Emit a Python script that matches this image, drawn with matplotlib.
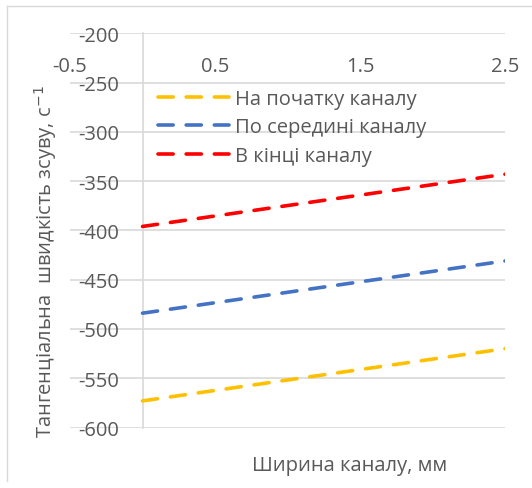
import matplotlib.pyplot as plt
from matplotlib.lines import Line2D

# Дані
width_mm = [0.0, 2.5]
start_rate = [-573, -520]   # На початку каналу
middle_rate = [-484, -431]  # По середині каналу
end_rate = [-396, -343]     # В кінці каналу

series_labels = ["На початку каналу", "По середині каналу", "В кінці каналу"]
x_ticks = [-0.5, 0.5, 1.5, 2.5]
y_ticks = [-600, -550, -500, -450, -400, -350, -300, -250, -200]

COLOR_GROC = "#FFC000"
COLOR_BLAU = "#4472C4"
COLOR_VERMELL = "#FF0000"
COLOR_TEXT = "#595959"
COLOR_GRID = "#D9D9D9"

plt.rcParams["font.family"] = ["Open Sans", "DejaVu Sans"]
plt.rcParams["axes.unicode_minus"] = False

fig = plt.figure(figsize=(5.32, 4.89), dpi=100)
ax = fig.add_axes([0.1316, 0.1237, 0.8177, 0.8062])

dash = (0, (4.2, 3.6))
for y, c, lab in zip([start_rate, middle_rate, end_rate],
                     [COLOR_GROC, COLOR_BLAU, COLOR_VERMELL], series_labels):
    ax.plot(width_mm, y, color=c, linewidth=2.6, linestyle=dash,
            dash_capstyle="round", label=lab, zorder=3)

ax.set_xlim(-0.5, 2.5)
ax.set_ylim(-600, -200)

ax.set_yticks(y_ticks)
ax.yaxis.grid(True, color=COLOR_GRID, linewidth=1.2, zorder=0)
ax.set_axisbelow(True)

for s in ["right", "bottom", "top"]:
    ax.spines[s].set_visible(False)
ax.spines["left"].set_position(("data", 0))
ax.spines["left"].set_color(COLOR_GRID)
ax.spines["left"].set_linewidth(1.2)

ax.tick_params(axis="y", length=0, pad=17, labelsize=14.5, labelcolor=COLOR_TEXT)
ax.xaxis.tick_top()
ax.set_xticks(x_ticks)
ax.set_xticklabels(["-0.5", "0.5", "1.5", "2.5"])
ax.tick_params(axis="x", length=0, pad=-31, labelsize=14.5, labelcolor=COLOR_TEXT)

fig.text(0.086, 0.464, "Тангенціальна  швидкість зсуву, с$^{-1}$", rotation=90,
         ha="center", va="center", fontsize=14.5, color=COLOR_TEXT)
fig.text(0.658, 0.048, "Ширина каналу, мм", ha="center", va="center",
         fontsize=14.5, color=COLOR_TEXT)

ax.legend(loc="upper left", bbox_to_anchor=(0.18, 0.885), frameon=False,
          fontsize=14.5, labelcolor=COLOR_TEXT, handlelength=3.5,
          handletextpad=0.3, labelspacing=0.42, borderpad=0)

# рамка області діаграми
fig.add_artist(Line2D([7 / 532, 7 / 532], [7 / 489, 1 - 7 / 489],
                      transform=fig.transFigure, color=COLOR_GRID, linewidth=1))
fig.add_artist(Line2D([7 / 532, 1], [1 - 7 / 489, 1 - 7 / 489],
                      transform=fig.transFigure, color=COLOR_GRID, linewidth=1))

plt.savefig("out.png", dpi=100)
plt.close()
